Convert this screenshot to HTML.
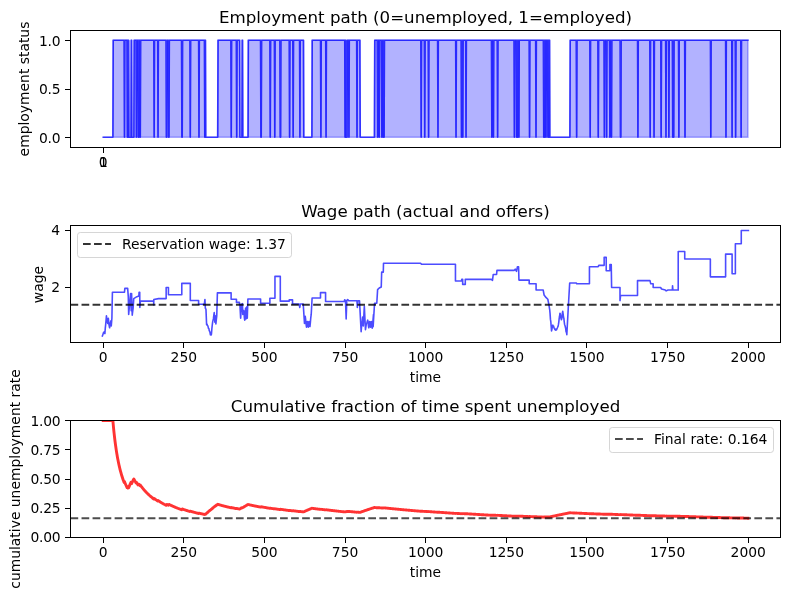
<!DOCTYPE html>
<html lang="en"><head><meta charset="utf-8"><title>McCall search simulation</title>
<style>html,body{margin:0;padding:0;background:#fff}svg{display:block}text{font-family:"DejaVu Sans","Liberation Sans",sans-serif;fill:#000}.t{font-size:13.89px}.ti{font-size:16.67px}</style></head><body>
<svg width="790" height="590" viewBox="0 0 790 590">
<rect width="790" height="590" fill="#fff"/>
<g>
<path d="M103.2 137.3 L112.88 137.3 L113.2 40.3 L124.16 40.3 L124.49 137.3 L124.81 40.3 L127.07 40.3 L127.39 137.3 L127.71 40.3 L128.03 40.3 L128.36 137.3 L128.68 40.3 L129 137.3 L130.94 137.3 L131.26 40.3 L131.58 40.3 L131.9 137.3 L133.84 137.3 L134.16 40.3 L136.1 40.3 L136.42 137.3 L136.74 40.3 L138.03 40.3 L138.35 137.3 L138.68 40.3 L139 137.3 L139.32 40.3 L139.97 40.3 L140.29 137.3 L140.61 40.3 L153.83 40.3 L154.16 137.3 L154.48 40.3 L157.7 40.3 L158.03 137.3 L158.35 40.3 L166.09 40.3 L166.41 137.3 L166.73 137.3 L167.06 40.3 L168.35 40.3 L168.67 137.3 L168.99 137.3 L169.31 40.3 L181.57 40.3 L181.89 137.3 L182.22 137.3 L182.54 40.3 L189.96 40.3 L190.28 137.3 L190.6 40.3 L198.66 40.3 L198.99 137.3 L199.31 40.3 L204.47 40.3 L204.79 137.3 L205.11 40.3 L205.44 40.3 L205.76 137.3 L217.69 137.3 L218.01 40.3 L230.91 40.3 L231.24 137.3 L231.56 40.3 L236.4 40.3 L236.72 137.3 L237.04 40.3 L239.62 40.3 L239.94 137.3 L241.88 137.3 L242.2 40.3 L242.52 40.3 L242.85 137.3 L248.01 137.3 L248.33 40.3 L260.59 40.3 L260.91 137.3 L261.23 137.3 L261.55 40.3 L269.94 40.3 L270.26 137.3 L270.58 40.3 L274.45 40.3 L274.78 137.3 L275.1 40.3 L279.94 40.3 L280.26 137.3 L280.58 137.3 L280.9 40.3 L289.29 40.3 L289.61 137.3 L289.93 40.3 L292.84 40.3 L293.16 137.3 L293.48 40.3 L299.61 40.3 L299.93 137.3 L300.25 40.3 L303.48 40.3 L303.8 137.3 L311.86 137.3 L312.19 40.3 L320.57 40.3 L320.9 137.3 L321.22 40.3 L325.73 40.3 L326.06 137.3 L326.38 40.3 L344.76 40.3 L345.08 137.3 L345.41 40.3 L345.73 40.3 L346.05 137.3 L347.02 137.3 L347.34 40.3 L348.63 40.3 L348.95 137.3 L349.28 40.3 L356.69 40.3 L357.02 137.3 L357.34 40.3 L359.92 40.3 L360.24 137.3 L374.43 137.3 L374.75 40.3 L377.33 40.3 L377.66 137.3 L377.98 40.3 L378.95 40.3 L379.27 137.3 L379.59 40.3 L381.53 40.3 L381.85 137.3 L382.17 40.3 L382.82 40.3 L383.14 137.3 L383.46 40.3 L383.78 40.3 L384.11 137.3 L384.43 40.3 L420.87 40.3 L421.2 137.3 L421.52 40.3 L424.42 40.3 L424.74 137.3 L425.07 40.3 L428.29 40.3 L428.61 137.3 L428.94 40.3 L437.64 40.3 L437.97 137.3 L438.29 40.3 L455.7 40.3 L456.03 137.3 L456.35 40.3 L461.19 40.3 L461.51 137.3 L461.83 40.3 L462.48 40.3 L462.8 137.3 L463.12 40.3 L465.7 40.3 L466.03 137.3 L466.35 40.3 L491.5 40.3 L491.83 137.3 L492.15 40.3 L493.12 40.3 L493.44 137.3 L493.76 40.3 L497.31 40.3 L497.63 137.3 L497.95 40.3 L514.08 40.3 L514.4 137.3 L514.72 40.3 L516.34 40.3 L516.66 137.3 L516.98 40.3 L517.3 40.3 L517.63 137.3 L517.95 40.3 L518.59 40.3 L518.92 137.3 L519.24 40.3 L529.24 40.3 L529.56 137.3 L529.88 40.3 L535.69 40.3 L536.01 137.3 L536.33 40.3 L543.43 40.3 L543.75 137.3 L544.07 40.3 L544.4 40.3 L544.72 137.3 L545.04 40.3 L545.69 40.3 L546.01 137.3 L546.33 40.3 L547.62 40.3 L547.94 137.3 L548.27 40.3 L548.59 40.3 L548.91 137.3 L549.23 40.3 L549.56 40.3 L549.88 137.3 L569.87 137.3 L570.2 40.3 L576.32 40.3 L576.65 137.3 L576.97 40.3 L589.87 40.3 L590.19 137.3 L590.51 40.3 L597.93 40.3 L598.25 137.3 L598.58 40.3 L604.06 40.3 L604.38 137.3 L604.71 40.3 L606.32 40.3 L606.64 137.3 L606.96 40.3 L609.54 40.3 L609.87 137.3 L610.19 40.3 L611.16 40.3 L611.48 137.3 L611.8 40.3 L620.19 40.3 L620.51 137.3 L620.83 137.3 L621.15 40.3 L637.6 40.3 L637.92 137.3 L638.25 40.3 L649.86 40.3 L650.18 137.3 L650.5 40.3 L653.73 40.3 L654.05 137.3 L654.37 40.3 L660.82 40.3 L661.14 137.3 L661.47 40.3 L665.66 40.3 L665.98 137.3 L666.3 40.3 L668.56 40.3 L668.88 137.3 L669.21 40.3 L672.43 40.3 L672.75 137.3 L673.08 40.3 L673.4 40.3 L673.72 137.3 L674.04 40.3 L678.56 40.3 L678.88 137.3 L679.21 40.3 L684.69 40.3 L685.01 137.3 L685.33 40.3 L710.49 40.3 L710.81 137.3 L711.13 40.3 L725.65 40.3 L725.97 137.3 L726.29 40.3 L731.77 40.3 L732.1 137.3 L732.42 40.3 L735.32 40.3 L735.64 137.3 L735.97 40.3 L740.8 40.3 L741.13 137.3 L741.45 40.3 L747.9 40.3 L747.9 137.3 L103.2 137.3 Z" fill="#0000ff" fill-opacity="0.3" stroke="#0000ff" stroke-opacity="0.3" stroke-width="1.6" stroke-linejoin="miter"/>
<path d="M103.2 137.3 L112.88 137.3 L113.2 40.3 L124.16 40.3 L124.49 137.3 L124.81 40.3 L127.07 40.3 L127.39 137.3 L127.71 40.3 L128.03 40.3 L128.36 137.3 L128.68 40.3 L129 137.3 L130.94 137.3 L131.26 40.3 L131.58 40.3 L131.9 137.3 L133.84 137.3 L134.16 40.3 L136.1 40.3 L136.42 137.3 L136.74 40.3 L138.03 40.3 L138.35 137.3 L138.68 40.3 L139 137.3 L139.32 40.3 L139.97 40.3 L140.29 137.3 L140.61 40.3 L153.83 40.3 L154.16 137.3 L154.48 40.3 L157.7 40.3 L158.03 137.3 L158.35 40.3 L166.09 40.3 L166.41 137.3 L166.73 137.3 L167.06 40.3 L168.35 40.3 L168.67 137.3 L168.99 137.3 L169.31 40.3 L181.57 40.3 L181.89 137.3 L182.22 137.3 L182.54 40.3 L189.96 40.3 L190.28 137.3 L190.6 40.3 L198.66 40.3 L198.99 137.3 L199.31 40.3 L204.47 40.3 L204.79 137.3 L205.11 40.3 L205.44 40.3 L205.76 137.3 L217.69 137.3 L218.01 40.3 L230.91 40.3 L231.24 137.3 L231.56 40.3 L236.4 40.3 L236.72 137.3 L237.04 40.3 L239.62 40.3 L239.94 137.3 L241.88 137.3 L242.2 40.3 L242.52 40.3 L242.85 137.3 L248.01 137.3 L248.33 40.3 L260.59 40.3 L260.91 137.3 L261.23 137.3 L261.55 40.3 L269.94 40.3 L270.26 137.3 L270.58 40.3 L274.45 40.3 L274.78 137.3 L275.1 40.3 L279.94 40.3 L280.26 137.3 L280.58 137.3 L280.9 40.3 L289.29 40.3 L289.61 137.3 L289.93 40.3 L292.84 40.3 L293.16 137.3 L293.48 40.3 L299.61 40.3 L299.93 137.3 L300.25 40.3 L303.48 40.3 L303.8 137.3 L311.86 137.3 L312.19 40.3 L320.57 40.3 L320.9 137.3 L321.22 40.3 L325.73 40.3 L326.06 137.3 L326.38 40.3 L344.76 40.3 L345.08 137.3 L345.41 40.3 L345.73 40.3 L346.05 137.3 L347.02 137.3 L347.34 40.3 L348.63 40.3 L348.95 137.3 L349.28 40.3 L356.69 40.3 L357.02 137.3 L357.34 40.3 L359.92 40.3 L360.24 137.3 L374.43 137.3 L374.75 40.3 L377.33 40.3 L377.66 137.3 L377.98 40.3 L378.95 40.3 L379.27 137.3 L379.59 40.3 L381.53 40.3 L381.85 137.3 L382.17 40.3 L382.82 40.3 L383.14 137.3 L383.46 40.3 L383.78 40.3 L384.11 137.3 L384.43 40.3 L420.87 40.3 L421.2 137.3 L421.52 40.3 L424.42 40.3 L424.74 137.3 L425.07 40.3 L428.29 40.3 L428.61 137.3 L428.94 40.3 L437.64 40.3 L437.97 137.3 L438.29 40.3 L455.7 40.3 L456.03 137.3 L456.35 40.3 L461.19 40.3 L461.51 137.3 L461.83 40.3 L462.48 40.3 L462.8 137.3 L463.12 40.3 L465.7 40.3 L466.03 137.3 L466.35 40.3 L491.5 40.3 L491.83 137.3 L492.15 40.3 L493.12 40.3 L493.44 137.3 L493.76 40.3 L497.31 40.3 L497.63 137.3 L497.95 40.3 L514.08 40.3 L514.4 137.3 L514.72 40.3 L516.34 40.3 L516.66 137.3 L516.98 40.3 L517.3 40.3 L517.63 137.3 L517.95 40.3 L518.59 40.3 L518.92 137.3 L519.24 40.3 L529.24 40.3 L529.56 137.3 L529.88 40.3 L535.69 40.3 L536.01 137.3 L536.33 40.3 L543.43 40.3 L543.75 137.3 L544.07 40.3 L544.4 40.3 L544.72 137.3 L545.04 40.3 L545.69 40.3 L546.01 137.3 L546.33 40.3 L547.62 40.3 L547.94 137.3 L548.27 40.3 L548.59 40.3 L548.91 137.3 L549.23 40.3 L549.56 40.3 L549.88 137.3 L569.87 137.3 L570.2 40.3 L576.32 40.3 L576.65 137.3 L576.97 40.3 L589.87 40.3 L590.19 137.3 L590.51 40.3 L597.93 40.3 L598.25 137.3 L598.58 40.3 L604.06 40.3 L604.38 137.3 L604.71 40.3 L606.32 40.3 L606.64 137.3 L606.96 40.3 L609.54 40.3 L609.87 137.3 L610.19 40.3 L611.16 40.3 L611.48 137.3 L611.8 40.3 L620.19 40.3 L620.51 137.3 L620.83 137.3 L621.15 40.3 L637.6 40.3 L637.92 137.3 L638.25 40.3 L649.86 40.3 L650.18 137.3 L650.5 40.3 L653.73 40.3 L654.05 137.3 L654.37 40.3 L660.82 40.3 L661.14 137.3 L661.47 40.3 L665.66 40.3 L665.98 137.3 L666.3 40.3 L668.56 40.3 L668.88 137.3 L669.21 40.3 L672.43 40.3 L672.75 137.3 L673.08 40.3 L673.4 40.3 L673.72 137.3 L674.04 40.3 L678.56 40.3 L678.88 137.3 L679.21 40.3 L684.69 40.3 L685.01 137.3 L685.33 40.3 L710.49 40.3 L710.81 137.3 L711.13 40.3 L725.65 40.3 L725.97 137.3 L726.29 40.3 L731.77 40.3 L732.1 137.3 L732.42 40.3 L735.32 40.3 L735.64 137.3 L735.97 40.3 L740.8 40.3 L741.13 137.3 L741.45 40.3 L747.9 40.3" fill="none" stroke="#0000ff" stroke-opacity="0.7" stroke-width="1.6" stroke-linejoin="round" stroke-linecap="square"/>
<rect x="70.5" y="30.5" width="710.0" height="117.0" fill="none" stroke="#000" stroke-width="1" shape-rendering="crispEdges"/>
<rect x="103" y="148.0" width="1" height="5" fill="#000"/><text class="t" x="103.2" y="167.3" text-anchor="middle">0</text>
<rect x="103" y="148.0" width="1" height="5" fill="#000"/><text class="t" x="103.52" y="167.3" text-anchor="middle">1</text>
<rect x="65.0" y="137" width="5" height="1" fill="#000"/><text class="t" x="60.2" y="142.8" text-anchor="end" style="letter-spacing:-0.33px">0.0</text>
<rect x="65.0" y="89" width="5" height="1" fill="#000"/><text class="t" x="60.2" y="94.1" text-anchor="end" style="letter-spacing:-0.33px">0.5</text>
<rect x="65.0" y="40" width="5" height="1" fill="#000"/><text class="t" x="60.2" y="46.1" text-anchor="end" style="letter-spacing:-0.33px">1.0</text>
<text class="ti" x="425.5" y="22.6" text-anchor="middle">Employment path (0=unemployed, 1=employed)</text>
<text class="t" transform="translate(28.7,89) rotate(-90)" text-anchor="middle">employment status</text>
</g>
<g>
<path d="M102.37 336.07 L103.01 334.17 L103.45 332.83 L103.89 332.26 L104.23 331.92 L104.57 333.44 L104.91 333.53 L105.29 328.14 L105.67 324.64 L106.06 320.27 L106.44 315.74 L107.07 320.83 L107.71 323.37 L108.34 318.28 L108.98 324.64 L109.61 327.81 L110.25 323.37 L110.88 320.83 L111.26 325.91 L111.9 318.28 L112.41 292.24 L124.48 292.24 L124.86 288.42 L127.66 288.42 L128.29 296.68 L128.67 314.47 L129.56 304.31 L130.58 293.51 L131.21 310.66 L131.59 293.51 L132.23 315.11 L132.68 311.32 L133.12 308.12 L133.75 298.59 L136.93 296.68 L138.84 296.05 L139.09 292.24 L139.73 292.24 L139.85 307.48 L140.36 301.13 L153.7 301.13 L153.7 304.94 L153.83 299.48 L158.53 298.59 L166.16 298.59 L166.16 287.53 L168.44 287.53 L168.44 294.78 L181.79 294.78 L181.79 283.34 L190.3 283.34 L190.3 300.5 L198.6 300.5 L198.6 304.31 L204.31 304.31 L204.95 299.48 L205.33 308.12 L205.97 309.39 L206.6 324.64 L207.02 324.09 L207.45 325.5 L207.87 325.91 L208.51 328.45 L208.89 328.7 L209.27 330.84 L209.65 331.31 L210.03 332.63 L210.41 334.8 L210.75 334.42 L211.09 335.1 L211.43 334.17 L211.88 328.58 L212.32 324.64 L212.7 321.62 L213.08 320.09 L213.46 318.38 L213.84 315.15 L214.22 312.57 L214.86 322.1 L215.24 315.74 L215.88 324 L216.32 319.64 L216.77 315.74 L217.4 292.87 L231.12 292.87 L231.12 299.22 L236.46 299.22 L236.46 302.4 L239.38 302.4 L239.64 304.31 L239.89 304.31 L240.65 318.28 L241.54 304.31 L242.43 303.67 L242.81 314.47 L243.25 313.61 L243.7 310.66 L244.04 312.84 L244.38 317.8 L244.72 320.19 L245.17 313.69 L245.61 308.12 L245.99 318.92 L246.44 312.1 L246.88 306.85 L247.26 318.28 L247.9 298.97 L260.6 298.97 L260.6 303.29 L269.88 303.29 L269.88 298.21 L274.96 298.21 L274.96 276.35 L280.3 276.35 L280.3 301.13 L289.23 301.13 L289.23 299.86 L292.53 299.86 L292.53 304.05 L299.14 304.05 L299.78 307.48 L300.41 304.05 L303.21 304.05 L304.48 323.37 L304.86 319.03 L305.24 316.38 L305.66 319.56 L306.09 324.28 L306.51 327.18 L306.95 323.62 L307.4 321.46 L307.85 324.5 L308.29 327.18 L308.67 324.63 L309.05 321.46 L309.5 323.72 L309.94 326.54 L310.36 322.62 L310.79 317.53 L311.21 314.47 L312.1 297.95 L320.49 297.95 L320.49 292.62 L325.57 292.62 L325.57 301.51 L344.25 301.51 L344.63 299.86 L345.52 300.5 L346.16 318.92 L346.79 300.5 L347.68 299.48 L348.7 300.75 L356.96 300.75 L357.34 307.48 L357.85 300.75 L359.5 300.75 L361.15 331.63 L361.53 327.01 L361.91 323.67 L362.29 321.06 L362.67 317.01 L363.31 325.91 L364.33 306.21 L365.47 329.72 L365.81 327.44 L366.15 325.08 L366.49 323.37 L366.91 322.5 L367.34 321.15 L367.76 320.19 L368.1 322.29 L368.43 325.92 L368.77 327.81 L369.22 325.07 L369.66 321.46 L370.11 323.76 L370.55 327.18 L370.94 324.48 L371.32 321.46 L371.76 324.89 L372.2 328.2 L372.63 324.45 L373.05 319.55 L373.48 314.47 L373.13 326.63 L374.55 303.25 L376.79 303.25 L377.6 289.63 L379.23 288.01 L381.26 286.99 L381.67 272.15 L383.29 272.15 L383.5 263.21 L420.28 263.21 L421.5 264.23 L455.45 264.23 L455.45 280.89 L461.55 281.02 L461.74 279.35 L462.67 279.35 L462.67 284.38 L465.28 284.38 L465.28 279.35 L491.36 279.35 L492.48 280.28 L493.23 274.5 L496.58 274.5 L496.95 270.4 L514.28 270.4 L515.21 269.1 L516.52 271.33 L517.45 266.68 L518.57 266.68 L518.94 280.09 L529.19 280.09 L529.19 283.82 L536.08 283.82 L536.08 289.97 L543.16 289.97 L544.09 295 L545.96 297.42 L547.82 299.28 L548.75 303.94 L549.68 309.53 L550.05 313.35 L550.43 319.16 L550.8 321.55 L551.18 326.49 L551.55 330.96 L552.01 328.73 L552.48 325.37 L552.85 325.16 L553.22 326.46 L553.6 326.03 L553.97 327.97 L554.34 328.16 L554.71 329.12 L555.08 329.07 L555.46 330.11 L555.83 329.25 L556.2 330.03 L556.57 329.71 L556.95 328.75 L557.32 327.97 L557.7 326.95 L558.07 326.3 L558.44 324.44 L558.81 322.06 L559.19 318.42 L559.56 316.23 L559.93 313.26 L560.3 313.92 L560.67 316.96 L561.05 318.47 L561.42 319.78 L561.75 318.77 L562.08 316.29 L562.4 313.01 L562.73 311.39 L563.1 313.75 L563.47 316.98 L563.85 318.17 L564.22 321.75 L564.59 324.44 L564.96 325.42 L565.34 327.01 L565.71 328.59 L566.08 331.86 L566.46 332.16 L566.83 334.68 L568.38 305.8 L569.69 283.07 L576.4 283.07 L576.77 283.82 L589.44 283.82 L589.44 266.68 L598.2 266.68 L598.76 265.37 L604.16 265.37 L604.16 257.36 L606.21 257.36 L606.21 270.77 L609.93 270.77 L609.93 264.44 L611.24 264.44 L611.61 287.54 L620 287.54 L620 300.59 L620.56 295.56 L637.51 295.56 L637.51 280.65 L649.99 280.65 L650.74 283.82 L653.16 283.82 L653.16 287.54 L660.61 287.54 L661.55 289.03 L665.27 289.97 L666.2 290.9 L668.07 289.97 L672.35 289.97 L672.54 285.68 L672.91 289.97 L677.94 289.97 L678.22 290.08 L678.22 251.44 L684.73 251.44 L684.73 258.96 L710.35 258.96 L710.35 276.86 L725.61 276.86 L725.61 254.08 L732.11 254.08 L732.11 273.81 L735.37 273.81 L735.37 243.71 L741.27 243.71 L741.27 230.49 L748.38 230.49" fill="none" stroke="#0000ff" stroke-opacity="0.7" stroke-width="1.6" stroke-linejoin="round" stroke-linecap="square"/>
<line x1="70.5" y1="304.7" x2="780.5" y2="304.7" stroke="#000" stroke-opacity="0.8" stroke-width="2.08" stroke-dasharray="7.7 3.33"/>
<rect x="70.5" y="225.5" width="710.0" height="117.0" fill="none" stroke="#000" stroke-width="1" shape-rendering="crispEdges"/>
<rect x="103" y="343.0" width="1" height="5" fill="#000"/><text class="t" x="103.2" y="362.3" text-anchor="middle">0</text>
<rect x="183" y="343.0" width="1" height="5" fill="#000"/><text class="t" x="183.83" y="362.3" text-anchor="middle">250</text>
<rect x="264" y="343.0" width="1" height="5" fill="#000"/><text class="t" x="264.46" y="362.3" text-anchor="middle">500</text>
<rect x="345" y="343.0" width="1" height="5" fill="#000"/><text class="t" x="345.08" y="362.3" text-anchor="middle">750</text>
<rect x="425" y="343.0" width="1" height="5" fill="#000"/><text class="t" x="425.71" y="362.3" text-anchor="middle">1000</text>
<rect x="506" y="343.0" width="1" height="5" fill="#000"/><text class="t" x="506.34" y="362.3" text-anchor="middle">1250</text>
<rect x="586" y="343.0" width="1" height="5" fill="#000"/><text class="t" x="586.97" y="362.3" text-anchor="middle">1500</text>
<rect x="667" y="343.0" width="1" height="5" fill="#000"/><text class="t" x="667.59" y="362.3" text-anchor="middle">1750</text>
<rect x="748" y="343.0" width="1" height="5" fill="#000"/><text class="t" x="748.22" y="362.3" text-anchor="middle">2000</text>
<rect x="65.0" y="287" width="5" height="1" fill="#000"/><text class="t" x="60.2" y="292" text-anchor="end">2</text>
<rect x="65.0" y="230" width="5" height="1" fill="#000"/><text class="t" x="60.2" y="235" text-anchor="end">4</text>
<text class="ti" x="425.5" y="217" text-anchor="middle">Wage path (actual and offers)</text>
<text class="t" x="425.5" y="382" text-anchor="middle">time</text>
<text class="t" transform="translate(43,284.6) rotate(-90)" text-anchor="middle">wage</text>
<rect x="77.5" y="232.5" width="214" height="25" rx="2.8" fill="#fff" fill-opacity="0.8" stroke="#ccc" stroke-opacity="0.8" stroke-width="1"/>
<line x1="83" y1="244" x2="111" y2="244" stroke="#000" stroke-opacity="0.8" stroke-width="2.08" stroke-dasharray="7.7 3.33"/>
<text class="t" x="122" y="249">Reservation wage: 1.37</text>
</g>
<g>
<clipPath id="c3"><rect x="70.5" y="420.5" width="710.0" height="117.0"/></clipPath>
<path d="M103.2 420.5 L103.52 420.5 L103.85 420.5 L104.17 420.5 L104.49 420.5 L104.81 420.5 L105.14 420.5 L105.46 420.5 L105.78 420.5 L106.1 420.5 L106.43 420.5 L106.75 420.5 L107.07 420.5 L107.39 420.5 L107.72 420.5 L108.04 420.5 L108.36 420.5 L108.68 420.5 L109.01 420.5 L109.33 420.5 L109.65 420.5 L109.97 420.5 L110.3 420.5 L110.62 420.5 L110.94 420.5 L111.26 420.5 L111.59 420.5 L111.91 420.5 L112.23 420.5 L112.55 420.5 L112.88 420.5 L113.2 424.16 L113.52 427.59 L113.84 430.82 L114.17 433.87 L114.49 436.75 L114.81 439.47 L115.13 442.05 L115.46 444.5 L115.78 446.82 L116.1 449.04 L116.42 451.14 L116.75 453.15 L117.07 455.07 L117.39 456.9 L117.71 458.65 L118.04 460.33 L118.36 461.94 L118.68 463.48 L119 464.96 L119.33 466.38 L119.65 467.75 L119.97 469.07 L120.29 470.33 L120.62 471.55 L120.94 472.73 L121.26 473.87 L121.58 474.97 L121.91 476.03 L122.23 477.05 L122.55 478.04 L122.87 479 L123.2 479.93 L123.52 480.83 L123.84 481.7 L124.16 482.55 L124.49 481.62 L124.81 482.44 L125.13 483.24 L125.45 484.01 L125.78 484.77 L126.1 485.5 L126.42 486.21 L126.74 486.91 L127.07 487.58 L127.39 486.7 L127.71 487.36 L128.03 488 L128.36 487.15 L128.68 487.77 L129 486.94 L129.32 486.13 L129.65 485.34 L129.97 484.57 L130.29 483.82 L130.61 483.08 L130.94 482.36 L131.26 482.99 L131.58 483.6 L131.9 482.9 L132.23 482.21 L132.55 481.54 L132.87 480.89 L133.19 480.24 L133.52 479.62 L133.84 479 L134.16 479.6 L134.48 480.19 L134.81 480.77 L135.13 481.34 L135.45 481.9 L135.77 482.44 L136.1 482.98 L136.42 482.38 L136.74 482.9 L137.06 483.42 L137.39 483.92 L137.71 484.42 L138.03 484.9 L138.35 484.32 L138.68 484.8 L139 484.22 L139.32 484.69 L139.64 485.16 L139.97 485.61 L140.29 485.05 L140.61 485.5 L140.93 485.94 L141.26 486.37 L141.58 486.8 L141.9 487.22 L142.22 487.63 L142.55 488.04 L142.87 488.44 L143.19 488.83 L143.51 489.21 L143.84 489.59 L144.16 489.97 L144.48 490.34 L144.8 490.7 L145.13 491.06 L145.45 491.41 L145.77 491.76 L146.09 492.1 L146.42 492.43 L146.74 492.76 L147.06 493.09 L147.38 493.41 L147.71 493.73 L148.03 494.04 L148.35 494.35 L148.67 494.65 L149 494.95 L149.32 495.25 L149.64 495.54 L149.96 495.83 L150.29 496.11 L150.61 496.39 L150.93 496.67 L151.25 496.94 L151.58 497.21 L151.9 497.47 L152.22 497.74 L152.54 497.99 L152.87 498.25 L153.19 498.5 L153.51 498.75 L153.83 498.99 L154.16 498.5 L154.48 498.74 L154.8 498.98 L155.12 499.22 L155.45 499.46 L155.77 499.69 L156.09 499.92 L156.41 500.14 L156.74 500.37 L157.06 500.59 L157.38 500.81 L157.7 501.02 L158.03 500.55 L158.35 500.77 L158.67 500.98 L158.99 501.19 L159.32 501.4 L159.64 501.6 L159.96 501.81 L160.28 502.01 L160.61 502.2 L160.93 502.4 L161.25 502.59 L161.57 502.79 L161.9 502.98 L162.22 503.16 L162.54 503.35 L162.86 503.53 L163.19 503.71 L163.51 503.89 L163.83 504.07 L164.15 504.25 L164.48 504.42 L164.8 504.59 L165.12 504.76 L165.44 504.93 L165.77 505.1 L166.09 505.27 L166.41 504.84 L166.73 504.41 L167.06 504.58 L167.38 504.74 L167.7 504.9 L168.02 505.06 L168.35 505.22 L168.67 504.81 L168.99 504.4 L169.31 504.56 L169.64 504.72 L169.96 504.88 L170.28 505.03 L170.6 505.19 L170.93 505.34 L171.25 505.49 L171.57 505.64 L171.89 505.79 L172.22 505.94 L172.54 506.08 L172.86 506.23 L173.18 506.37 L173.51 506.51 L173.83 506.65 L174.15 506.79 L174.47 506.93 L174.8 507.07 L175.12 507.21 L175.44 507.34 L175.77 507.47 L176.09 507.61 L176.41 507.74 L176.73 507.87 L177.06 508 L177.38 508.12 L177.7 508.25 L178.02 508.38 L178.35 508.5 L178.67 508.62 L178.99 508.75 L179.31 508.87 L179.64 508.99 L179.96 509.11 L180.28 509.23 L180.6 509.34 L180.93 509.46 L181.25 509.57 L181.57 509.69 L181.89 509.32 L182.22 508.96 L182.54 509.08 L182.86 509.19 L183.18 509.31 L183.51 509.42 L183.83 509.53 L184.15 509.64 L184.47 509.75 L184.8 509.86 L185.12 509.97 L185.44 510.08 L185.76 510.18 L186.09 510.29 L186.41 510.4 L186.73 510.5 L187.05 510.6 L187.38 510.71 L187.7 510.81 L188.02 510.91 L188.34 511.01 L188.67 511.11 L188.99 511.21 L189.31 511.31 L189.63 511.4 L189.96 511.5 L190.28 511.16 L190.6 511.26 L190.92 511.36 L191.25 511.45 L191.57 511.55 L191.89 511.64 L192.21 511.73 L192.54 511.83 L192.86 511.92 L193.18 512.01 L193.5 512.1 L193.83 512.19 L194.15 512.28 L194.47 512.37 L194.79 512.46 L195.12 512.55 L195.44 512.63 L195.76 512.72 L196.08 512.8 L196.41 512.89 L196.73 512.97 L197.05 513.06 L197.37 513.14 L197.7 513.22 L198.02 513.31 L198.34 513.39 L198.66 513.47 L198.99 513.16 L199.31 513.24 L199.63 513.32 L199.95 513.4 L200.28 513.48 L200.6 513.56 L200.92 513.64 L201.24 513.72 L201.57 513.79 L201.89 513.87 L202.21 513.95 L202.53 514.02 L202.86 514.1 L203.18 514.18 L203.5 514.25 L203.82 514.32 L204.15 514.4 L204.47 514.47 L204.79 514.17 L205.11 514.25 L205.44 514.32 L205.76 514.03 L206.08 513.73 L206.4 513.44 L206.73 513.16 L207.05 512.87 L207.37 512.58 L207.69 512.3 L208.02 512.02 L208.34 511.74 L208.66 511.46 L208.98 511.18 L209.31 510.91 L209.63 510.64 L209.95 510.36 L210.27 510.09 L210.6 509.83 L210.92 509.56 L211.24 509.29 L211.56 509.03 L211.89 508.77 L212.21 508.51 L212.53 508.25 L212.85 507.99 L213.18 507.74 L213.5 507.48 L213.82 507.23 L214.14 506.98 L214.47 506.73 L214.79 506.48 L215.11 506.23 L215.43 505.99 L215.76 505.74 L216.08 505.5 L216.4 505.26 L216.72 505.02 L217.05 504.78 L217.37 504.54 L217.69 504.31 L218.01 504.4 L218.34 504.49 L218.66 504.58 L218.98 504.68 L219.3 504.77 L219.63 504.86 L219.95 504.95 L220.27 505.04 L220.59 505.12 L220.92 505.21 L221.24 505.3 L221.56 505.39 L221.88 505.48 L222.21 505.56 L222.53 505.65 L222.85 505.73 L223.17 505.82 L223.5 505.9 L223.82 505.99 L224.14 506.07 L224.46 506.16 L224.79 506.24 L225.11 506.32 L225.43 506.4 L225.75 506.48 L226.08 506.57 L226.4 506.65 L226.72 506.73 L227.04 506.81 L227.37 506.89 L227.69 506.97 L228.01 507.04 L228.33 507.12 L228.66 507.2 L228.98 507.28 L229.3 507.35 L229.62 507.43 L229.95 507.51 L230.27 507.58 L230.59 507.66 L230.91 507.73 L231.24 507.52 L231.56 507.59 L231.88 507.67 L232.2 507.74 L232.53 507.81 L232.85 507.89 L233.17 507.96 L233.49 508.03 L233.82 508.11 L234.14 508.18 L234.46 508.25 L234.78 508.32 L235.11 508.39 L235.43 508.46 L235.75 508.53 L236.07 508.6 L236.4 508.67 L236.72 508.46 L237.04 508.53 L237.36 508.6 L237.69 508.67 L238.01 508.74 L238.33 508.81 L238.65 508.88 L238.98 508.94 L239.3 509.01 L239.62 509.08 L239.94 508.87 L240.27 508.66 L240.59 508.46 L240.91 508.25 L241.23 508.05 L241.56 507.84 L241.88 507.64 L242.2 507.71 L242.52 507.78 L242.85 507.58 L243.17 507.38 L243.49 507.18 L243.81 506.98 L244.14 506.78 L244.46 506.58 L244.78 506.39 L245.1 506.19 L245.43 506 L245.75 505.81 L246.07 505.61 L246.39 505.42 L246.72 505.23 L247.04 505.04 L247.36 504.85 L247.69 504.67 L248.01 504.48 L248.33 504.55 L248.65 504.63 L248.98 504.7 L249.3 504.77 L249.62 504.84 L249.94 504.91 L250.27 504.99 L250.59 505.06 L250.91 505.13 L251.23 505.2 L251.56 505.27 L251.88 505.34 L252.2 505.41 L252.52 505.48 L252.85 505.55 L253.17 505.61 L253.49 505.68 L253.81 505.75 L254.14 505.82 L254.46 505.89 L254.78 505.95 L255.1 506.02 L255.43 506.09 L255.75 506.15 L256.07 506.22 L256.39 506.28 L256.72 506.35 L257.04 506.41 L257.36 506.48 L257.68 506.54 L258.01 506.61 L258.33 506.67 L258.65 506.74 L258.97 506.8 L259.3 506.86 L259.62 506.93 L259.94 506.99 L260.26 507.05 L260.59 507.11 L260.91 506.94 L261.23 506.76 L261.55 506.82 L261.88 506.89 L262.2 506.95 L262.52 507.01 L262.84 507.07 L263.17 507.13 L263.49 507.19 L263.81 507.25 L264.13 507.31 L264.46 507.37 L264.78 507.43 L265.1 507.49 L265.42 507.55 L265.75 507.61 L266.07 507.67 L266.39 507.73 L266.71 507.79 L267.04 507.85 L267.36 507.91 L267.68 507.96 L268 508.02 L268.33 508.08 L268.65 508.14 L268.97 508.19 L269.29 508.25 L269.62 508.31 L269.94 508.36 L270.26 508.19 L270.58 508.25 L270.91 508.31 L271.23 508.36 L271.55 508.42 L271.87 508.47 L272.2 508.53 L272.52 508.58 L272.84 508.64 L273.16 508.69 L273.49 508.75 L273.81 508.8 L274.13 508.86 L274.45 508.91 L274.78 508.74 L275.1 508.8 L275.42 508.85 L275.74 508.9 L276.07 508.96 L276.39 509.01 L276.71 509.06 L277.03 509.12 L277.36 509.17 L277.68 509.22 L278 509.27 L278.32 509.33 L278.65 509.38 L278.97 509.43 L279.29 509.48 L279.61 509.53 L279.94 509.58 L280.26 509.42 L280.58 509.26 L280.9 509.31 L281.23 509.36 L281.55 509.41 L281.87 509.46 L282.19 509.51 L282.52 509.56 L282.84 509.61 L283.16 509.66 L283.48 509.71 L283.81 509.76 L284.13 509.81 L284.45 509.86 L284.77 509.91 L285.1 509.96 L285.42 510.01 L285.74 510.06 L286.06 510.1 L286.39 510.15 L286.71 510.2 L287.03 510.25 L287.35 510.3 L287.68 510.34 L288 510.39 L288.32 510.44 L288.64 510.48 L288.97 510.53 L289.29 510.58 L289.61 510.42 L289.93 510.47 L290.26 510.52 L290.58 510.56 L290.9 510.61 L291.22 510.65 L291.55 510.7 L291.87 510.75 L292.19 510.79 L292.51 510.84 L292.84 510.88 L293.16 510.73 L293.48 510.77 L293.8 510.82 L294.13 510.86 L294.45 510.91 L294.77 510.95 L295.09 511 L295.42 511.04 L295.74 511.09 L296.06 511.13 L296.38 511.18 L296.71 511.22 L297.03 511.26 L297.35 511.31 L297.67 511.35 L298 511.39 L298.32 511.44 L298.64 511.48 L298.96 511.52 L299.29 511.56 L299.61 511.61 L299.93 511.46 L300.25 511.5 L300.58 511.54 L300.9 511.58 L301.22 511.63 L301.54 511.67 L301.87 511.71 L302.19 511.75 L302.51 511.79 L302.83 511.84 L303.16 511.88 L303.48 511.92 L303.8 511.77 L304.12 511.62 L304.45 511.48 L304.77 511.33 L305.09 511.19 L305.41 511.04 L305.74 510.9 L306.06 510.76 L306.38 510.61 L306.7 510.47 L307.03 510.33 L307.35 510.19 L307.67 510.05 L307.99 509.91 L308.32 509.77 L308.64 509.63 L308.96 509.49 L309.28 509.35 L309.61 509.21 L309.93 509.07 L310.25 508.93 L310.57 508.8 L310.9 508.66 L311.22 508.52 L311.54 508.39 L311.86 508.25 L312.19 508.3 L312.51 508.34 L312.83 508.38 L313.15 508.43 L313.48 508.47 L313.8 508.52 L314.12 508.56 L314.44 508.61 L314.77 508.65 L315.09 508.69 L315.41 508.74 L315.73 508.78 L316.06 508.83 L316.38 508.87 L316.7 508.91 L317.02 508.95 L317.35 509 L317.67 509.04 L317.99 509.08 L318.32 509.13 L318.64 509.17 L318.96 509.21 L319.28 509.25 L319.61 509.29 L319.93 509.34 L320.25 509.38 L320.57 509.42 L320.9 509.29 L321.22 509.33 L321.54 509.37 L321.86 509.41 L322.19 509.45 L322.51 509.5 L322.83 509.54 L323.15 509.58 L323.48 509.62 L323.8 509.66 L324.12 509.7 L324.44 509.74 L324.77 509.78 L325.09 509.82 L325.41 509.86 L325.73 509.9 L326.06 509.77 L326.38 509.81 L326.7 509.85 L327.02 509.89 L327.35 509.93 L327.67 509.97 L327.99 510.01 L328.31 510.05 L328.64 510.09 L328.96 510.13 L329.28 510.17 L329.6 510.21 L329.93 510.24 L330.25 510.28 L330.57 510.32 L330.89 510.36 L331.22 510.4 L331.54 510.44 L331.86 510.47 L332.18 510.51 L332.51 510.55 L332.83 510.59 L333.15 510.63 L333.47 510.66 L333.8 510.7 L334.12 510.74 L334.44 510.78 L334.76 510.81 L335.09 510.85 L335.41 510.89 L335.73 510.92 L336.05 510.96 L336.38 511 L336.7 511.03 L337.02 511.07 L337.34 511.11 L337.67 511.14 L337.99 511.18 L338.31 511.22 L338.63 511.25 L338.96 511.29 L339.28 511.32 L339.6 511.36 L339.92 511.39 L340.25 511.43 L340.57 511.46 L340.89 511.5 L341.21 511.54 L341.54 511.57 L341.86 511.61 L342.18 511.64 L342.5 511.67 L342.83 511.71 L343.15 511.74 L343.47 511.78 L343.79 511.81 L344.12 511.85 L344.44 511.88 L344.76 511.92 L345.08 511.79 L345.41 511.83 L345.73 511.86 L346.05 511.74 L346.37 511.62 L346.7 511.5 L347.02 511.38 L347.34 511.41 L347.66 511.45 L347.99 511.48 L348.31 511.52 L348.63 511.55 L348.95 511.43 L349.28 511.47 L349.6 511.5 L349.92 511.53 L350.24 511.57 L350.57 511.6 L350.89 511.64 L351.21 511.67 L351.53 511.7 L351.86 511.74 L352.18 511.77 L352.5 511.8 L352.82 511.84 L353.15 511.87 L353.47 511.9 L353.79 511.93 L354.11 511.97 L354.44 512 L354.76 512.03 L355.08 512.07 L355.4 512.1 L355.73 512.13 L356.05 512.16 L356.37 512.19 L356.69 512.23 L357.02 512.11 L357.34 512.14 L357.66 512.17 L357.98 512.21 L358.31 512.24 L358.63 512.27 L358.95 512.3 L359.27 512.33 L359.6 512.37 L359.92 512.4 L360.24 512.28 L360.56 512.17 L360.89 512.05 L361.21 511.94 L361.53 511.82 L361.85 511.71 L362.18 511.6 L362.5 511.48 L362.82 511.37 L363.14 511.26 L363.47 511.15 L363.79 511.03 L364.11 510.92 L364.43 510.81 L364.76 510.7 L365.08 510.59 L365.4 510.48 L365.72 510.37 L366.05 510.26 L366.37 510.15 L366.69 510.04 L367.01 509.93 L367.34 509.82 L367.66 509.71 L367.98 509.6 L368.3 509.49 L368.63 509.39 L368.95 509.28 L369.27 509.17 L369.59 509.06 L369.92 508.96 L370.24 508.85 L370.56 508.74 L370.88 508.64 L371.21 508.53 L371.53 508.43 L371.85 508.32 L372.17 508.21 L372.5 508.11 L372.82 508.01 L373.14 507.9 L373.46 507.8 L373.79 507.69 L374.11 507.59 L374.43 507.49 L374.75 507.52 L375.08 507.56 L375.4 507.59 L375.72 507.63 L376.04 507.66 L376.37 507.7 L376.69 507.73 L377.01 507.77 L377.33 507.8 L377.66 507.7 L377.98 507.74 L378.3 507.77 L378.62 507.81 L378.95 507.84 L379.27 507.74 L379.59 507.77 L379.91 507.81 L380.24 507.84 L380.56 507.88 L380.88 507.91 L381.2 507.94 L381.53 507.98 L381.85 507.88 L382.17 507.91 L382.49 507.95 L382.82 507.98 L383.14 507.88 L383.46 507.91 L383.78 507.95 L384.11 507.85 L384.43 507.88 L384.75 507.92 L385.07 507.95 L385.4 507.98 L385.72 508.02 L386.04 508.05 L386.36 508.08 L386.69 508.12 L387.01 508.15 L387.33 508.18 L387.65 508.22 L387.98 508.25 L388.3 508.28 L388.62 508.32 L388.94 508.35 L389.27 508.38 L389.59 508.41 L389.91 508.45 L390.24 508.48 L390.56 508.51 L390.88 508.54 L391.2 508.58 L391.53 508.61 L391.85 508.64 L392.17 508.67 L392.49 508.71 L392.82 508.74 L393.14 508.77 L393.46 508.8 L393.78 508.83 L394.11 508.87 L394.43 508.9 L394.75 508.93 L395.07 508.96 L395.4 508.99 L395.72 509.02 L396.04 509.05 L396.36 509.09 L396.69 509.12 L397.01 509.15 L397.33 509.18 L397.65 509.21 L397.98 509.24 L398.3 509.27 L398.62 509.3 L398.94 509.33 L399.27 509.36 L399.59 509.39 L399.91 509.43 L400.23 509.46 L400.56 509.49 L400.88 509.52 L401.2 509.55 L401.52 509.58 L401.85 509.61 L402.17 509.64 L402.49 509.67 L402.81 509.7 L403.14 509.73 L403.46 509.76 L403.78 509.79 L404.1 509.82 L404.43 509.85 L404.75 509.88 L405.07 509.9 L405.39 509.93 L405.72 509.96 L406.04 509.99 L406.36 510.02 L406.68 510.05 L407.01 510.08 L407.33 510.11 L407.65 510.14 L407.97 510.17 L408.3 510.2 L408.62 510.22 L408.94 510.25 L409.26 510.28 L409.59 510.31 L409.91 510.34 L410.23 510.37 L410.55 510.4 L410.88 510.42 L411.2 510.45 L411.52 510.48 L411.84 510.51 L412.17 510.54 L412.49 510.57 L412.81 510.59 L413.13 510.62 L413.46 510.65 L413.78 510.68 L414.1 510.71 L414.42 510.73 L414.75 510.76 L415.07 510.79 L415.39 510.82 L415.71 510.84 L416.04 510.87 L416.36 510.9 L416.68 510.93 L417 510.95 L417.33 510.98 L417.65 511.01 L417.97 511.03 L418.29 511.06 L418.62 511.09 L418.94 511.12 L419.26 511.14 L419.58 511.17 L419.91 511.2 L420.23 511.22 L420.55 511.25 L420.87 511.28 L421.2 511.18 L421.52 511.21 L421.84 511.24 L422.16 511.26 L422.49 511.29 L422.81 511.32 L423.13 511.34 L423.45 511.37 L423.78 511.4 L424.1 511.42 L424.42 511.45 L424.74 511.36 L425.07 511.38 L425.39 511.41 L425.71 511.44 L426.03 511.46 L426.36 511.49 L426.68 511.51 L427 511.54 L427.32 511.56 L427.65 511.59 L427.97 511.62 L428.29 511.64 L428.61 511.55 L428.94 511.58 L429.26 511.6 L429.58 511.63 L429.9 511.65 L430.23 511.68 L430.55 511.7 L430.87 511.73 L431.19 511.76 L431.52 511.78 L431.84 511.81 L432.16 511.83 L432.48 511.86 L432.81 511.88 L433.13 511.91 L433.45 511.93 L433.77 511.96 L434.1 511.98 L434.42 512.01 L434.74 512.03 L435.06 512.06 L435.39 512.08 L435.71 512.1 L436.03 512.13 L436.35 512.15 L436.68 512.18 L437 512.2 L437.32 512.23 L437.64 512.25 L437.97 512.16 L438.29 512.19 L438.61 512.21 L438.93 512.24 L439.26 512.26 L439.58 512.28 L439.9 512.31 L440.22 512.33 L440.55 512.36 L440.87 512.38 L441.19 512.4 L441.51 512.43 L441.84 512.45 L442.16 512.48 L442.48 512.5 L442.8 512.52 L443.13 512.55 L443.45 512.57 L443.77 512.59 L444.09 512.62 L444.42 512.64 L444.74 512.67 L445.06 512.69 L445.38 512.71 L445.71 512.74 L446.03 512.76 L446.35 512.78 L446.67 512.8 L447 512.83 L447.32 512.85 L447.64 512.87 L447.96 512.9 L448.29 512.92 L448.61 512.94 L448.93 512.97 L449.25 512.99 L449.58 513.01 L449.9 513.03 L450.22 513.06 L450.54 513.08 L450.87 513.1 L451.19 513.12 L451.51 513.15 L451.83 513.17 L452.16 513.19 L452.48 513.21 L452.8 513.24 L453.12 513.26 L453.45 513.28 L453.77 513.3 L454.09 513.33 L454.41 513.35 L454.74 513.37 L455.06 513.39 L455.38 513.41 L455.7 513.44 L456.03 513.35 L456.35 513.37 L456.67 513.4 L456.99 513.42 L457.32 513.44 L457.64 513.46 L457.96 513.48 L458.28 513.51 L458.61 513.53 L458.93 513.55 L459.25 513.57 L459.57 513.59 L459.9 513.61 L460.22 513.64 L460.54 513.66 L460.86 513.68 L461.19 513.7 L461.51 513.62 L461.83 513.64 L462.16 513.66 L462.48 513.68 L462.8 513.6 L463.12 513.62 L463.45 513.64 L463.77 513.66 L464.09 513.68 L464.41 513.7 L464.74 513.72 L465.06 513.75 L465.38 513.77 L465.7 513.79 L466.03 513.71 L466.35 513.73 L466.67 513.75 L466.99 513.77 L467.32 513.79 L467.64 513.81 L467.96 513.83 L468.28 513.85 L468.61 513.87 L468.93 513.89 L469.25 513.91 L469.57 513.94 L469.9 513.96 L470.22 513.98 L470.54 514 L470.86 514.02 L471.19 514.04 L471.51 514.06 L471.83 514.08 L472.15 514.1 L472.48 514.12 L472.8 514.14 L473.12 514.16 L473.44 514.18 L473.77 514.2 L474.09 514.22 L474.41 514.24 L474.73 514.26 L475.06 514.28 L475.38 514.3 L475.7 514.32 L476.02 514.34 L476.35 514.36 L476.67 514.38 L476.99 514.4 L477.31 514.42 L477.64 514.44 L477.96 514.46 L478.28 514.48 L478.6 514.5 L478.93 514.52 L479.25 514.54 L479.57 514.56 L479.89 514.58 L480.22 514.6 L480.54 514.62 L480.86 514.64 L481.18 514.66 L481.51 514.68 L481.83 514.7 L482.15 514.72 L482.47 514.74 L482.8 514.76 L483.12 514.77 L483.44 514.79 L483.76 514.81 L484.09 514.83 L484.41 514.85 L484.73 514.87 L485.05 514.89 L485.38 514.91 L485.7 514.93 L486.02 514.95 L486.34 514.97 L486.67 514.98 L486.99 515 L487.31 515.02 L487.63 515.04 L487.96 515.06 L488.28 515.08 L488.6 515.1 L488.92 515.12 L489.25 515.14 L489.57 515.15 L489.89 515.17 L490.21 515.19 L490.54 515.21 L490.86 515.23 L491.18 515.25 L491.5 515.27 L491.83 515.19 L492.15 515.21 L492.47 515.22 L492.79 515.24 L493.12 515.26 L493.44 515.18 L493.76 515.2 L494.08 515.22 L494.41 515.24 L494.73 515.26 L495.05 515.27 L495.37 515.29 L495.7 515.31 L496.02 515.33 L496.34 515.35 L496.66 515.36 L496.99 515.38 L497.31 515.4 L497.63 515.32 L497.95 515.34 L498.28 515.36 L498.6 515.38 L498.92 515.4 L499.24 515.41 L499.57 515.43 L499.89 515.45 L500.21 515.47 L500.53 515.49 L500.86 515.5 L501.18 515.52 L501.5 515.54 L501.82 515.56 L502.15 515.57 L502.47 515.59 L502.79 515.61 L503.11 515.63 L503.44 515.64 L503.76 515.66 L504.08 515.68 L504.4 515.7 L504.73 515.72 L505.05 515.73 L505.37 515.75 L505.69 515.77 L506.02 515.78 L506.34 515.8 L506.66 515.82 L506.98 515.84 L507.31 515.85 L507.63 515.87 L507.95 515.89 L508.27 515.91 L508.6 515.92 L508.92 515.94 L509.24 515.96 L509.56 515.97 L509.89 515.99 L510.21 516.01 L510.53 516.03 L510.85 516.04 L511.18 516.06 L511.5 516.08 L511.82 516.09 L512.14 516.11 L512.47 516.13 L512.79 516.14 L513.11 516.16 L513.43 516.18 L513.76 516.19 L514.08 516.21 L514.4 516.14 L514.72 516.15 L515.05 516.17 L515.37 516.19 L515.69 516.2 L516.01 516.22 L516.34 516.24 L516.66 516.16 L516.98 516.18 L517.3 516.19 L517.63 516.12 L517.95 516.14 L518.27 516.15 L518.59 516.17 L518.92 516.1 L519.24 516.11 L519.56 516.13 L519.88 516.15 L520.21 516.16 L520.53 516.18 L520.85 516.19 L521.17 516.21 L521.5 516.23 L521.82 516.24 L522.14 516.26 L522.46 516.28 L522.79 516.29 L523.11 516.31 L523.43 516.33 L523.75 516.34 L524.08 516.36 L524.4 516.37 L524.72 516.39 L525.04 516.41 L525.37 516.42 L525.69 516.44 L526.01 516.45 L526.33 516.47 L526.66 516.49 L526.98 516.5 L527.3 516.52 L527.62 516.53 L527.95 516.55 L528.27 516.57 L528.59 516.58 L528.91 516.6 L529.24 516.61 L529.56 516.54 L529.88 516.56 L530.2 516.57 L530.53 516.59 L530.85 516.6 L531.17 516.62 L531.49 516.64 L531.82 516.65 L532.14 516.67 L532.46 516.68 L532.78 516.7 L533.11 516.71 L533.43 516.73 L533.75 516.74 L534.08 516.76 L534.4 516.78 L534.72 516.79 L535.04 516.81 L535.37 516.82 L535.69 516.84 L536.01 516.77 L536.33 516.78 L536.66 516.8 L536.98 516.81 L537.3 516.83 L537.62 516.84 L537.95 516.86 L538.27 516.87 L538.59 516.89 L538.91 516.9 L539.24 516.92 L539.56 516.93 L539.88 516.95 L540.2 516.96 L540.53 516.98 L540.85 516.99 L541.17 517.01 L541.49 517.02 L541.82 517.04 L542.14 517.06 L542.46 517.07 L542.78 517.09 L543.11 517.1 L543.43 517.11 L543.75 517.04 L544.07 517.06 L544.4 517.07 L544.72 517 L545.04 517.02 L545.36 517.03 L545.69 517.05 L546.01 516.98 L546.33 516.99 L546.65 517.01 L546.98 517.02 L547.3 517.04 L547.62 517.05 L547.94 516.98 L548.27 517 L548.59 517.01 L548.91 516.94 L549.23 516.96 L549.56 516.97 L549.88 516.9 L550.2 516.83 L550.52 516.76 L550.85 516.69 L551.17 516.63 L551.49 516.56 L551.81 516.49 L552.14 516.42 L552.46 516.35 L552.78 516.28 L553.1 516.21 L553.43 516.14 L553.75 516.08 L554.07 516.01 L554.39 515.94 L554.72 515.87 L555.04 515.8 L555.36 515.73 L555.68 515.67 L556.01 515.6 L556.33 515.53 L556.65 515.46 L556.97 515.4 L557.3 515.33 L557.62 515.26 L557.94 515.19 L558.26 515.13 L558.59 515.06 L558.91 514.99 L559.23 514.93 L559.55 514.86 L559.88 514.79 L560.2 514.73 L560.52 514.66 L560.84 514.59 L561.17 514.53 L561.49 514.46 L561.81 514.4 L562.13 514.33 L562.46 514.26 L562.78 514.2 L563.1 514.13 L563.42 514.07 L563.75 514 L564.07 513.94 L564.39 513.87 L564.71 513.81 L565.04 513.74 L565.36 513.68 L565.68 513.61 L566 513.55 L566.33 513.48 L566.65 513.42 L566.97 513.35 L567.29 513.29 L567.62 513.22 L567.94 513.16 L568.26 513.09 L568.58 513.03 L568.91 512.97 L569.23 512.9 L569.55 512.84 L569.87 512.77 L570.2 512.79 L570.52 512.81 L570.84 512.83 L571.16 512.84 L571.49 512.86 L571.81 512.88 L572.13 512.89 L572.45 512.91 L572.78 512.93 L573.1 512.94 L573.42 512.96 L573.74 512.98 L574.07 512.99 L574.39 513.01 L574.71 513.03 L575.03 513.05 L575.36 513.06 L575.68 513.08 L576 513.1 L576.32 513.11 L576.65 513.05 L576.97 513.07 L577.29 513.08 L577.61 513.1 L577.94 513.12 L578.26 513.13 L578.58 513.15 L578.9 513.16 L579.23 513.18 L579.55 513.2 L579.87 513.21 L580.19 513.23 L580.52 513.25 L580.84 513.26 L581.16 513.28 L581.48 513.3 L581.81 513.31 L582.13 513.33 L582.45 513.34 L582.77 513.36 L583.1 513.38 L583.42 513.39 L583.74 513.41 L584.06 513.43 L584.39 513.44 L584.71 513.46 L585.03 513.47 L585.35 513.49 L585.68 513.51 L586 513.52 L586.32 513.54 L586.64 513.55 L586.97 513.57 L587.29 513.59 L587.61 513.6 L587.93 513.62 L588.26 513.63 L588.58 513.65 L588.9 513.67 L589.22 513.68 L589.55 513.7 L589.87 513.71 L590.19 513.65 L590.51 513.67 L590.84 513.68 L591.16 513.7 L591.48 513.71 L591.8 513.73 L592.13 513.75 L592.45 513.76 L592.77 513.78 L593.09 513.79 L593.42 513.81 L593.74 513.82 L594.06 513.84 L594.38 513.85 L594.71 513.87 L595.03 513.89 L595.35 513.9 L595.67 513.92 L596 513.93 L596.32 513.95 L596.64 513.96 L596.96 513.98 L597.29 513.99 L597.61 514.01 L597.93 514.02 L598.25 513.96 L598.58 513.98 L598.9 513.99 L599.22 514.01 L599.54 514.02 L599.87 514.04 L600.19 514.05 L600.51 514.07 L600.83 514.08 L601.16 514.1 L601.48 514.12 L601.8 514.13 L602.12 514.15 L602.45 514.16 L602.77 514.18 L603.09 514.19 L603.41 514.21 L603.74 514.22 L604.06 514.24 L604.38 514.18 L604.71 514.19 L605.03 514.21 L605.35 514.22 L605.67 514.24 L606 514.25 L606.32 514.26 L606.64 514.2 L606.96 514.22 L607.29 514.23 L607.61 514.25 L607.93 514.26 L608.25 514.28 L608.58 514.29 L608.9 514.31 L609.22 514.32 L609.54 514.34 L609.87 514.28 L610.19 514.29 L610.51 514.31 L610.83 514.32 L611.16 514.34 L611.48 514.28 L611.8 514.29 L612.12 514.31 L612.45 514.32 L612.77 514.34 L613.09 514.35 L613.41 514.37 L613.74 514.38 L614.06 514.4 L614.38 514.41 L614.7 514.42 L615.03 514.44 L615.35 514.45 L615.67 514.47 L615.99 514.48 L616.32 514.5 L616.64 514.51 L616.96 514.53 L617.28 514.54 L617.61 514.55 L617.93 514.57 L618.25 514.58 L618.57 514.6 L618.9 514.61 L619.22 514.63 L619.54 514.64 L619.86 514.65 L620.19 514.67 L620.51 514.61 L620.83 514.55 L621.15 514.57 L621.48 514.58 L621.8 514.59 L622.12 514.61 L622.44 514.62 L622.77 514.64 L623.09 514.65 L623.41 514.67 L623.73 514.68 L624.06 514.69 L624.38 514.71 L624.7 514.72 L625.02 514.74 L625.35 514.75 L625.67 514.76 L625.99 514.78 L626.31 514.79 L626.64 514.81 L626.96 514.82 L627.28 514.83 L627.6 514.85 L627.93 514.86 L628.25 514.88 L628.57 514.89 L628.89 514.9 L629.22 514.92 L629.54 514.93 L629.86 514.94 L630.18 514.96 L630.51 514.97 L630.83 514.99 L631.15 515 L631.47 515.01 L631.8 515.03 L632.12 515.04 L632.44 515.05 L632.76 515.07 L633.09 515.08 L633.41 515.1 L633.73 515.11 L634.05 515.12 L634.38 515.14 L634.7 515.15 L635.02 515.16 L635.34 515.18 L635.67 515.19 L635.99 515.2 L636.31 515.22 L636.63 515.23 L636.96 515.24 L637.28 515.26 L637.6 515.27 L637.92 515.21 L638.25 515.23 L638.57 515.24 L638.89 515.25 L639.21 515.27 L639.54 515.28 L639.86 515.29 L640.18 515.31 L640.5 515.32 L640.83 515.33 L641.15 515.35 L641.47 515.36 L641.79 515.37 L642.12 515.39 L642.44 515.4 L642.76 515.41 L643.08 515.43 L643.41 515.44 L643.73 515.45 L644.05 515.47 L644.37 515.48 L644.7 515.49 L645.02 515.51 L645.34 515.52 L645.66 515.53 L645.99 515.55 L646.31 515.56 L646.63 515.57 L646.95 515.58 L647.28 515.6 L647.6 515.61 L647.92 515.62 L648.24 515.64 L648.57 515.65 L648.89 515.66 L649.21 515.67 L649.53 515.69 L649.86 515.7 L650.18 515.64 L650.5 515.66 L650.82 515.67 L651.15 515.68 L651.47 515.7 L651.79 515.71 L652.11 515.72 L652.44 515.73 L652.76 515.75 L653.08 515.76 L653.4 515.77 L653.73 515.79 L654.05 515.73 L654.37 515.74 L654.69 515.75 L655.02 515.77 L655.34 515.78 L655.66 515.79 L655.98 515.81 L656.31 515.82 L656.63 515.83 L656.95 515.84 L657.27 515.86 L657.6 515.87 L657.92 515.88 L658.24 515.89 L658.56 515.91 L658.89 515.92 L659.21 515.93 L659.53 515.94 L659.85 515.96 L660.18 515.97 L660.5 515.98 L660.82 515.99 L661.14 515.94 L661.47 515.95 L661.79 515.96 L662.11 515.98 L662.43 515.99 L662.76 516 L663.08 516.01 L663.4 516.03 L663.72 516.04 L664.05 516.05 L664.37 516.06 L664.69 516.07 L665.01 516.09 L665.34 516.1 L665.66 516.11 L665.98 516.06 L666.3 516.07 L666.63 516.08 L666.95 516.09 L667.27 516.11 L667.59 516.12 L667.92 516.13 L668.24 516.14 L668.56 516.15 L668.88 516.1 L669.21 516.11 L669.53 516.12 L669.85 516.14 L670.17 516.15 L670.5 516.16 L670.82 516.17 L671.14 516.19 L671.46 516.2 L671.79 516.21 L672.11 516.22 L672.43 516.23 L672.75 516.18 L673.08 516.19 L673.4 516.2 L673.72 516.15 L674.04 516.16 L674.37 516.17 L674.69 516.19 L675.01 516.2 L675.33 516.21 L675.66 516.22 L675.98 516.23 L676.3 516.25 L676.63 516.26 L676.95 516.27 L677.27 516.28 L677.59 516.29 L677.92 516.3 L678.24 516.32 L678.56 516.33 L678.88 516.27 L679.21 516.29 L679.53 516.3 L679.85 516.31 L680.17 516.32 L680.5 516.33 L680.82 516.35 L681.14 516.36 L681.46 516.37 L681.79 516.38 L682.11 516.39 L682.43 516.4 L682.75 516.42 L683.08 516.43 L683.4 516.44 L683.72 516.45 L684.04 516.46 L684.37 516.48 L684.69 516.49 L685.01 516.43 L685.33 516.45 L685.66 516.46 L685.98 516.47 L686.3 516.48 L686.62 516.49 L686.95 516.5 L687.27 516.51 L687.59 516.53 L687.91 516.54 L688.24 516.55 L688.56 516.56 L688.88 516.57 L689.2 516.58 L689.53 516.6 L689.85 516.61 L690.17 516.62 L690.49 516.63 L690.82 516.64 L691.14 516.65 L691.46 516.66 L691.78 516.68 L692.11 516.69 L692.43 516.7 L692.75 516.71 L693.07 516.72 L693.4 516.73 L693.72 516.74 L694.04 516.76 L694.36 516.77 L694.69 516.78 L695.01 516.79 L695.33 516.8 L695.65 516.81 L695.98 516.82 L696.3 516.83 L696.62 516.85 L696.94 516.86 L697.27 516.87 L697.59 516.88 L697.91 516.89 L698.23 516.9 L698.56 516.91 L698.88 516.92 L699.2 516.93 L699.52 516.95 L699.85 516.96 L700.17 516.97 L700.49 516.98 L700.81 516.99 L701.14 517 L701.46 517.01 L701.78 517.02 L702.1 517.03 L702.43 517.05 L702.75 517.06 L703.07 517.07 L703.39 517.08 L703.72 517.09 L704.04 517.1 L704.36 517.11 L704.68 517.12 L705.01 517.13 L705.33 517.14 L705.65 517.15 L705.97 517.17 L706.3 517.18 L706.62 517.19 L706.94 517.2 L707.26 517.21 L707.59 517.22 L707.91 517.23 L708.23 517.24 L708.55 517.25 L708.88 517.26 L709.2 517.27 L709.52 517.28 L709.84 517.3 L710.17 517.31 L710.49 517.32 L710.81 517.27 L711.13 517.28 L711.46 517.29 L711.78 517.3 L712.1 517.31 L712.42 517.32 L712.75 517.33 L713.07 517.34 L713.39 517.35 L713.71 517.36 L714.04 517.37 L714.36 517.38 L714.68 517.39 L715 517.4 L715.33 517.41 L715.65 517.43 L715.97 517.44 L716.29 517.45 L716.62 517.46 L716.94 517.47 L717.26 517.48 L717.58 517.49 L717.91 517.5 L718.23 517.51 L718.55 517.52 L718.87 517.53 L719.2 517.54 L719.52 517.55 L719.84 517.56 L720.16 517.57 L720.49 517.58 L720.81 517.59 L721.13 517.6 L721.45 517.61 L721.78 517.62 L722.1 517.63 L722.42 517.64 L722.74 517.66 L723.07 517.67 L723.39 517.68 L723.71 517.69 L724.03 517.7 L724.36 517.71 L724.68 517.72 L725 517.73 L725.32 517.74 L725.65 517.75 L725.97 517.7 L726.29 517.71 L726.61 517.72 L726.94 517.73 L727.26 517.74 L727.58 517.75 L727.9 517.76 L728.23 517.77 L728.55 517.78 L728.87 517.79 L729.19 517.8 L729.52 517.81 L729.84 517.82 L730.16 517.83 L730.48 517.84 L730.81 517.85 L731.13 517.86 L731.45 517.87 L731.77 517.88 L732.1 517.83 L732.42 517.84 L732.74 517.85 L733.06 517.86 L733.39 517.87 L733.71 517.88 L734.03 517.89 L734.35 517.9 L734.68 517.91 L735 517.92 L735.32 517.93 L735.64 517.88 L735.97 517.89 L736.29 517.9 L736.61 517.91 L736.93 517.92 L737.26 517.93 L737.58 517.94 L737.9 517.95 L738.22 517.96 L738.55 517.97 L738.87 517.98 L739.19 517.99 L739.51 518 L739.84 518.01 L740.16 518.02 L740.48 518.03 L740.8 518.04 L741.13 517.99 L741.45 518 L741.77 518.01 L742.09 518.02 L742.42 518.03 L742.74 518.04 L743.06 518.05 L743.38 518.06 L743.71 518.07 L744.03 518.08 L744.35 518.09 L744.67 518.1 L745 518.11 L745.32 518.12 L745.64 518.13 L745.96 518.14 L746.29 518.15 L746.61 518.16 L746.93 518.17 L747.25 518.18 L747.58 518.19 L747.9 518.2" clip-path="url(#c3)" fill="none" stroke="#ff0000" stroke-opacity="0.8" stroke-width="2.9" stroke-linejoin="round" stroke-linecap="square"/>
<line x1="70.5" y1="518.31" x2="780.5" y2="518.31" stroke="#000" stroke-opacity="0.7" stroke-width="2.08" stroke-dasharray="7.7 3.33"/>
<rect x="70.5" y="420.5" width="710.0" height="117.0" fill="none" stroke="#000" stroke-width="1" shape-rendering="crispEdges"/>
<rect x="103" y="538.0" width="1" height="5" fill="#000"/><text class="t" x="103.2" y="557.3" text-anchor="middle">0</text>
<rect x="183" y="538.0" width="1" height="5" fill="#000"/><text class="t" x="183.83" y="557.3" text-anchor="middle">250</text>
<rect x="264" y="538.0" width="1" height="5" fill="#000"/><text class="t" x="264.46" y="557.3" text-anchor="middle">500</text>
<rect x="345" y="538.0" width="1" height="5" fill="#000"/><text class="t" x="345.08" y="557.3" text-anchor="middle">750</text>
<rect x="425" y="538.0" width="1" height="5" fill="#000"/><text class="t" x="425.71" y="557.3" text-anchor="middle">1000</text>
<rect x="506" y="538.0" width="1" height="5" fill="#000"/><text class="t" x="506.34" y="557.3" text-anchor="middle">1250</text>
<rect x="586" y="538.0" width="1" height="5" fill="#000"/><text class="t" x="586.97" y="557.3" text-anchor="middle">1500</text>
<rect x="667" y="538.0" width="1" height="5" fill="#000"/><text class="t" x="667.59" y="557.3" text-anchor="middle">1750</text>
<rect x="748" y="538.0" width="1" height="5" fill="#000"/><text class="t" x="748.22" y="557.3" text-anchor="middle">2000</text>
<rect x="65.0" y="537" width="5" height="1" fill="#000"/><text class="t" x="60.2" y="542.1" text-anchor="end" style="letter-spacing:-0.33px">0.00</text>
<rect x="65.0" y="508" width="5" height="1" fill="#000"/><text class="t" x="60.2" y="513.1" text-anchor="end" style="letter-spacing:-0.33px">0.25</text>
<rect x="65.0" y="479" width="5" height="1" fill="#000"/><text class="t" x="60.2" y="484.4" text-anchor="end" style="letter-spacing:-0.33px">0.50</text>
<rect x="65.0" y="449" width="5" height="1" fill="#000"/><text class="t" x="60.2" y="455.1" text-anchor="end" style="letter-spacing:-0.33px">0.75</text>
<rect x="65.0" y="420" width="5" height="1" fill="#000"/><text class="t" x="60.2" y="426.1" text-anchor="end" style="letter-spacing:-0.33px">1.00</text>
<text class="ti" x="425.5" y="412" text-anchor="middle">Cumulative fraction of time spent unemployed</text>
<text class="t" x="425.5" y="577" text-anchor="middle">time</text>
<text class="t" transform="translate(19.8,479) rotate(-90)" text-anchor="middle">cumulative unemployment rate</text>
<rect x="609.5" y="427.5" width="164" height="25" rx="2.8" fill="#fff" fill-opacity="0.8" stroke="#ccc" stroke-opacity="0.8" stroke-width="1"/>
<line x1="615" y1="439" x2="643" y2="439" stroke="#000" stroke-opacity="0.7" stroke-width="2.08" stroke-dasharray="7.7 3.33"/>
<text class="t" x="654" y="444">Final rate: 0.164</text>
</g>
</svg></body></html>
